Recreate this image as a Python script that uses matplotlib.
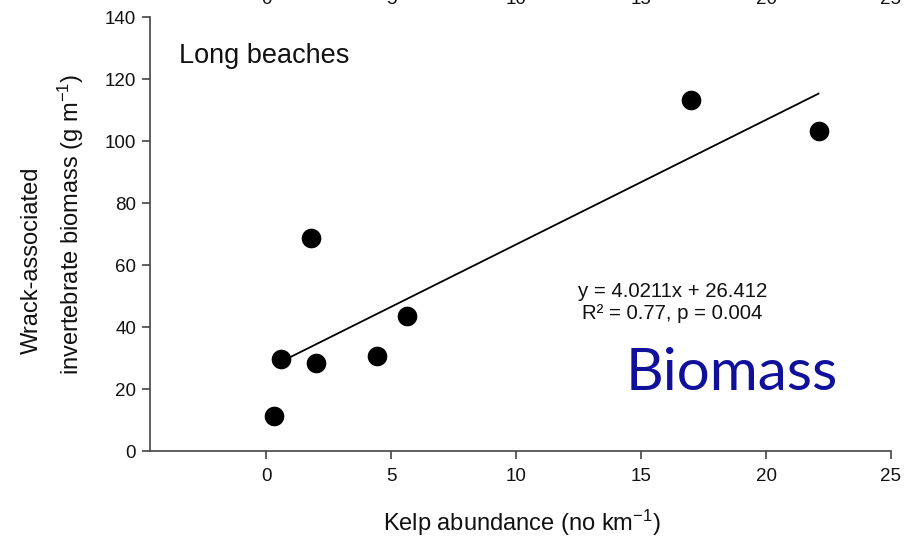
import numpy as np
import matplotlib.pyplot as plt

plt.rcParams['font.family'] = ['Liberation Sans', 'DejaVu Sans']
plt.rcParams['mathtext.fontset'] = 'custom'
plt.rcParams['mathtext.rm'] = 'Liberation Sans'
plt.rcParams['mathtext.it'] = 'Liberation Sans'

# kelp abundance (no km-1) vs wrack invertebrate biomass (g m-1), long beaches
kelp = [0.3, 0.6, 1.8, 2.0, 4.45, 5.65, 17.0, 22.1]
biomass = [11.2, 29.7, 68.6, 28.4, 30.6, 43.5, 113.3, 103.2]

slope, intercept = 4.0211, 26.412
r2, pval = 0.77, 0.004

xticks = [0, 5, 10, 15, 20, 25]
yticks = [0, 20, 40, 60, 80, 100, 120, 140]

W, H = 916, 540
fig = plt.figure(figsize=(W / 100, H / 100), dpi=100)
ax = fig.add_axes([150 / W, 1 - 451 / H, (891 - 150) / W, (451 - 17) / H])

ax.scatter(kelp, biomass, s=200, color='black', zorder=3, linewidths=0)

xfit = np.array([sorted(kelp)[1], max(kelp)])
ax.plot(xfit, slope * xfit + intercept, color='black', lw=1.3, zorder=2)

ax.set_xlim(-4.65, 25)
ax.set_ylim(0, 140)
ax.set_xticks(xticks)
ax.set_yticks(yticks)
for s in ['top', 'right']:
    ax.spines[s].set_visible(False)
for s in ['left', 'bottom']:
    ax.spines[s].set_color('#444444')
    ax.spines[s].set_linewidth(1.2)
ax.tick_params(axis='both', direction='out', length=6, width=1.2, color='#444444',
               labelsize=13.5, labelcolor='#111111')
ax.tick_params(axis='x', pad=6)
ax.tick_params(axis='y', pad=4)

ax.text(-3.5, 127.5, 'Long beaches', fontsize=19.5, ha='left', va='center', color='#111111')

ax.text(16.25, 51.5, f'y = {slope}x + {intercept}', fontsize=14.7, ha='center', va='center',
        color='#111111')
ax.text(16.25, 44.5, f'R² = {r2}, p = {pval}', fontsize=14.7, ha='center', va='center',
        color='#111111')

fig.text(626 / W, 1 - 374 / H, 'Biomass', fontsize=42, family='Lato', color='#10109a',
         ha='left', va='center')

fig.text(522 / W, 1 - 523 / H, 'Kelp abundance (no km$^{-1}$)', fontsize=17,
         ha='center', va='center', color='#111111')
fig.text(32 / W, 1 - 260 / H, 'Wrack-associated', fontsize=17, rotation=90,
         ha='center', va='center', color='#111111')
fig.text(71 / W, 1 - 224 / H, 'invertebrate biomass (g m$^{-1}$)', fontsize=17, rotation=90,
         ha='center', va='center', color='#111111')

# bottoms of the tick labels of the panel above
for t in xticks:
    xp = ax.transData.transform((t, 0))[0] / W
    fig.text(xp, 1 - 4 / H, str(t), fontsize=13.5, ha='center', va='baseline', color='#111111')

fig.savefig('out.png', dpi=100, facecolor='white')
